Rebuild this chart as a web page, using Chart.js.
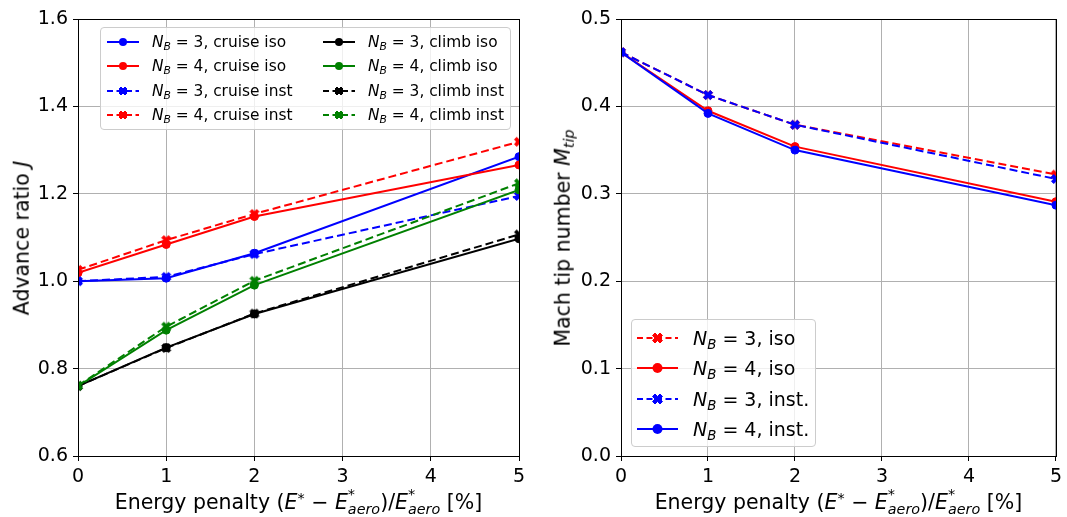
<!DOCTYPE html>
<html>
<head>
<meta charset="utf-8">
<title>Advance ratio and tip Mach number versus energy penalty</title>
<script src="https://cdn.jsdelivr.net/npm/chart.js@4.4.1/dist/chart.umd.min.js"></script>
<style>
  html, body { margin: 0; padding: 0; background: #ffffff; }
  #figure { position: relative; width: 1067px; height: 517px; overflow: hidden;
            font-family: "DejaVu Sans", sans-serif; color: #000; }
  #figure canvas { position: absolute; top: 0; }
  .legend-box { position: absolute; box-sizing: border-box; background: rgba(255,255,255,0.8);
                border: 1px solid #cccccc; border-radius: 4px; }
  .legend-row { position: absolute; display: flex; align-items: center; white-space: nowrap; }
  .legend-row svg { display: block; flex: none; }
  .axis-title { position: absolute; white-space: nowrap; line-height: 1.2; }
  .sub { font-size: 0.7em; position: relative; top: 0.3em; font-style: italic; }
  .sup { font-size: 0.7em; position: relative; top: -0.42em; }
  .stack { display: inline-block; position: relative; font-size: 0.7em; }
  .stack .lo { position: relative; top: 0.33em; font-style: italic; }
  .stack .hi { position: absolute; left: 0; top: -0.7em; }
</style>
</head>
<body>
<div id="figure">
  <canvas id="advance" width="533" height="517" style="left:0px"></canvas>
  <canvas id="mach" width="534" height="517" style="left:533px"></canvas>
</div>
<script>
// Energy penalty (%) at which each design was evaluated
const penalty = [0, 1, 2, 5];

// Axis tick values
const penaltyTicks = [0, 1, 2, 3, 4, 5];
const advanceTicks = [0.6, 0.8, 1.0, 1.2, 1.4, 1.6];
const machTicks = [0.0, 0.1, 0.2, 0.3, 0.4, 0.5];

// Advance ratio J
const jCruiseIsoN3  = [1.000, 1.007, 1.064, 1.285];
const jCruiseIsoN4  = [1.019, 1.084, 1.148, 1.266];
const jCruiseInstN3 = [1.000, 1.010, 1.062, 1.195];
const jCruiseInstN4 = [1.026, 1.094, 1.154, 1.319];
const jClimbIsoN3   = [0.760, 0.848, 0.925, 1.097];
const jClimbIsoN4   = [0.760, 0.888, 0.991, 1.209];
const jClimbInstN3  = [0.760, 0.847, 0.926, 1.107];
const jClimbInstN4  = [0.761, 0.896, 1.001, 1.224];

// Tip Mach number M_tip
const machIsoN3  = [0.462, 0.413, 0.379, 0.322];
const machIsoN4  = [0.462, 0.395, 0.354, 0.291];
const machInstN3 = [0.462, 0.413, 0.379, 0.317];
const machInstN4 = [0.462, 0.392, 0.350, 0.287];

const BLUE = '#0000ff', RED = '#ff0000', GREEN = '#008000', BLACK = '#000000';
const FONT = 'DejaVu Sans';
Chart.defaults.font.family = FONT;

const advanceSeries = [
  { blades: 3, caption: 'cruise iso',  values: jCruiseIsoN3,  color: BLUE,  dashed: false },
  { blades: 4, caption: 'cruise iso',  values: jCruiseIsoN4,  color: RED,   dashed: false },
  { blades: 3, caption: 'cruise inst', values: jCruiseInstN3, color: BLUE,  dashed: true },
  { blades: 4, caption: 'cruise inst', values: jCruiseInstN4, color: RED,   dashed: true },
  { blades: 3, caption: 'climb iso',   values: jClimbIsoN3,   color: BLACK, dashed: false },
  { blades: 4, caption: 'climb iso',   values: jClimbIsoN4,   color: GREEN, dashed: false },
  { blades: 3, caption: 'climb inst',  values: jClimbInstN3,  color: BLACK, dashed: true },
  { blades: 4, caption: 'climb inst',  values: jClimbInstN4,  color: GREEN, dashed: true }
];

const machSeries = [
  { blades: 3, caption: 'iso',   values: machIsoN3,  color: RED,  dashed: true },
  { blades: 4, caption: 'iso',   values: machIsoN4,  color: RED,  dashed: false },
  { blades: 3, caption: 'inst.', values: machInstN3, color: BLUE, dashed: true },
  { blades: 4, caption: 'inst.', values: machInstN4, color: BLUE, dashed: false }
];

// Filled "X" marker outline (unit square)
const X_SHAPE = [[-1,-2],[0,-1],[1,-2],[2,-1],[1,0],[2,1],[1,2],[0,1],[-1,2],[-2,1],[-1,0],[-2,-1]];

function crossMarker(color, extent) {
  const size = Math.ceil(extent) + 3;
  const c = document.createElement('canvas');
  c.width = size; c.height = size;
  const g = c.getContext('2d');
  g.translate(size / 2, size / 2);
  g.beginPath();
  X_SHAPE.forEach(([a, b], i) => {
    const px = a / 4 * extent, py = b / 4 * extent;
    if (i) g.lineTo(px, py); else g.moveTo(px, py);
  });
  g.closePath();
  g.fillStyle = color; g.strokeStyle = color; g.lineWidth = 1;
  g.fill(); g.stroke();
  return c;
}

function toDataset(s, i, n) {
  return {
    label: 'N_B = ' + s.blades + ', ' + s.caption,
    data: penalty.map((x, k) => ({ x: x, y: s.values[k] })),
    borderColor: s.color,
    backgroundColor: s.color,
    borderWidth: 2,
    borderDash: s.dashed ? [8, 4] : [],
    pointStyle: s.dashed ? crossMarker(s.color, 9) : 'circle',
    pointRadius: 4,
    pointBorderWidth: 1,
    pointBackgroundColor: s.color,
    pointBorderColor: s.color,
    tension: 0,
    order: n - i
  };
}

// Black box around the plotting area, drawn above the lines
const framePlugin = {
  id: 'frame',
  afterDatasetsDraw(chart) {
    const a = chart.chartArea, ctx = chart.ctx;
    ctx.save();
    ctx.strokeStyle = '#000';
    ctx.lineWidth = 1;
    ctx.strokeRect(Math.round(a.left) + 0.5, Math.round(a.top) + 0.5,
                   Math.round(a.right - a.left), Math.round(a.bottom - a.top));
    ctx.restore();
  }
};

function axisCommon(tickValues, fmt) {
  return {
    type: 'linear',
    min: tickValues[0],
    max: tickValues[tickValues.length - 1],
    afterBuildTicks: sc => { sc.ticks = tickValues.map(v => ({ value: v })); },
    ticks: { font: { family: FONT, size: 19 }, color: '#000', padding: 5,
             autoSkip: false, maxRotation: 0, callback: fmt },
    grid: { color: '#b0b0b0', lineWidth: 1, tickColor: '#000', tickLength: 5, tickWidth: 1 },
    border: { color: '#000', width: 1 }
  };
}

function makeChart(canvasId, series, yTicks, yFmt, yWidth, padRight) {
  const x = axisCommon(penaltyTicks, v => String(v));
  x.afterFit = sc => { sc.height = 61; };
  const y = axisCommon(yTicks, yFmt);
  y.afterFit = sc => { sc.width = yWidth; };
  return new Chart(document.getElementById(canvasId), {
    type: 'line',
    data: { datasets: series.map((s, i) => toDataset(s, i, series.length)) },
    options: {
      responsive: false,
      animation: false,
      devicePixelRatio: 1,
      layout: { padding: { top: 19, right: padRight, bottom: 0, left: 0 } },
      plugins: { legend: { display: false }, tooltip: { enabled: false } },
      scales: { x: x, y: y }
    },
    plugins: [framePlugin]
  });
}

const advanceChart = makeChart('advance', advanceSeries, advanceTicks, v => v.toFixed(1), 78, 14);
const machChart = makeChart('mach', machSeries, machTicks, v => v.toFixed(1), 88, 8);

const figure = document.getElementById('figure');

function bladeLabel(s) {
  return '<i>N</i><span class="sub">B</span> = ' + s.blades + ', ' + s.caption;
}

function sampleSvg(s, len, width, r, markerExtent) {
  const h = 14, cy = h / 2, cx = len / 2;
  let marker;
  if (s.dashed) {
    const pts = X_SHAPE.map(([a, b]) => (cx + a / 4 * markerExtent) + ',' + (cy + b / 4 * markerExtent)).join(' ');
    marker = '<polygon points="' + pts + '" fill="' + s.color + '" stroke="' + s.color + '" stroke-width="1"/>';
  } else {
    marker = '<circle cx="' + cx + '" cy="' + cy + '" r="' + r + '" fill="' + s.color + '"/>';
  }
  const dash = s.dashed ? ' stroke-dasharray="6 3.5"' : '';
  return '<svg width="' + width + '" height="' + h + '"><line x1="0" y1="' + cy + '" x2="' + len + '" y2="' + cy +
         '" stroke="' + s.color + '" stroke-width="2"' + dash + '/>' + marker + '</svg>';
}

function buildLegend(chart, series, cfg) {
  const a = chart.chartArea;
  const ox = chart.canvas.offsetLeft;
  const box = document.createElement('div');
  box.className = 'legend-box';
  box.style.left = (ox + a.left + cfg.box[0]) + 'px';
  box.style.top = (a.top + cfg.box[1]) + 'px';
  box.style.width = cfg.box[2] + 'px';
  box.style.height = cfg.box[3] + 'px';
  figure.appendChild(box);
  series.forEach((s, i) => {
    const col = Math.floor(i / cfg.rows.length), row = i % cfg.rows.length;
    const c = cfg.cols[col];
    const div = document.createElement('div');
    div.className = 'legend-row';
    div.style.left = (ox + a.left + c[0]) + 'px';
    div.style.top = (a.top + cfg.rows[row] - cfg.rowH / 2) + 'px';
    div.style.height = cfg.rowH + 'px';
    div.style.fontSize = cfg.font + 'px';
    div.innerHTML = sampleSvg(s, cfg.sample, c[1] - c[0], cfg.r, cfg.xm) + '<span>' + bladeLabel(s) + '</span>';
    figure.appendChild(div);
  });
}

buildLegend(advanceChart, advanceSeries, {
  box: [22, 8, 411, 103], rows: [22.7, 46.9, 71.5, 95.8], rowH: 22,
  cols: [[29, 74], [245, 290]], sample: 32, r: 4, xm: 8, font: 15.4
});
buildLegend(machChart, machSeries, {
  box: [10, 300, 185, 128], rows: [319, 349, 380, 410], rowH: 26,
  cols: [[16, 72]], sample: 41, r: 5, xm: 10, font: 19
});

function addTitle(chart, html, vertical, offset) {
  const a = chart.chartArea;
  const ox = chart.canvas.offsetLeft;
  const t = document.createElement('div');
  t.className = 'axis-title';
  t.style.fontSize = '20.5px';
  t.innerHTML = html;
  if (vertical) {
    t.style.left = (ox + offset) + 'px';
    t.style.top = ((a.top + a.bottom) / 2) + 'px';
    t.style.transform = 'translate(-50%, -50%) rotate(-90deg)';
  } else {
    t.style.left = (ox + (a.left + a.right) / 2) + 'px';
    t.style.top = offset + 'px';
    t.style.transform = 'translate(-50%, -50%)';
  }
  figure.appendChild(t);
}

const penaltyTitle = 'Energy penalty (<i>E</i><span class="sup">*</span> &minus; <i>E</i>' +
  '<span class="stack"><span class="lo">aero</span><span class="hi">*</span></span>)/<i>E</i>' +
  '<span class="stack"><span class="lo">aero</span><span class="hi">*</span></span> [%]';

addTitle(advanceChart, penaltyTitle, false, 502);
addTitle(machChart, penaltyTitle, false, 502);
addTitle(advanceChart, 'Advance ratio <i>J</i>', true, 22);
addTitle(machChart, 'Mach tip number <i>M</i><span class="sub">tip</span>', true, 30);
</script>
</body>
</html>
